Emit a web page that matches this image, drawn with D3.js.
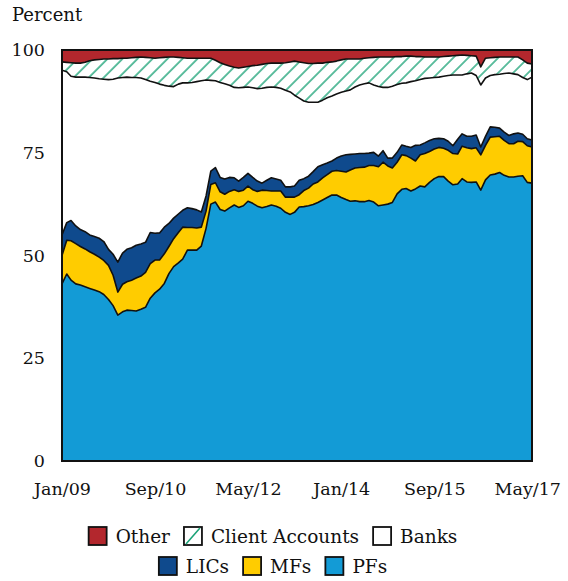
<!DOCTYPE html>
<html><head><meta charset="utf-8">
<script src="https://cdn.jsdelivr.net/npm/d3@7/dist/d3.min.js"></script>
<style>body{margin:0;background:#fff}</style>
</head><body><svg id="c" width="568" height="581"></svg>
<script>
// Monthly shares (percent), Jan 2009 – Jun 2017
const firstMonth = "Jan/09";
const pfs = [43.1,45.5,44,43.1,42.8,42.4,42,41.6,41.2,40.5,
39.3,37.8,35.5,36.3,36.7,36.6,36.5,36.9,37.4,39.6,
40.9,41.8,43.2,45.6,47.3,48.2,49.1,51.3,51.3,51.3,
52.3,56.6,62.5,63,61.2,60.8,61.6,62.3,61.7,62.1,
63.2,62.7,62,61.6,61.9,62.3,62,61.5,60.5,60,
60.5,61.8,61.9,62.1,62.4,62.9,63.5,64.1,64.7,64.7,
64.1,63.6,63.2,63.3,63.1,63.1,63.4,63,62.1,62.3,
62.5,62.9,65,66.1,66.3,65.7,66.2,66.9,66.7,67.8,
68.7,69.2,69.2,68.1,67.2,67.4,68.7,67.9,67.8,67.9,
65.9,68.4,69.6,69.8,70.2,69.5,69.1,69.1,69.3,69.4,
67.8,67.6];
const mfs = [6.9,8.2,9.6,9.8,9.4,9.2,8.9,8.7,8.4,8.3,
8.3,7.4,5.6,6.7,6.9,7.4,8,8.1,8.5,8.4,
8,7.1,7.2,6.6,6.8,7.4,7.8,5.5,5.5,5.4,
4.6,4.2,4.8,4.7,4.3,4.1,4,3.7,3.9,3.8,
3.7,3.3,3.6,4.3,3.9,3.4,3.7,4.2,3.7,4.2,
3.7,3,3.9,4.3,5,5,5.4,5.6,5.8,6,
6.4,6.7,7.6,8,8.3,8.4,8.5,8.9,9.5,10.4,
9.3,8.4,7.7,8.4,8,8,6.8,7.6,8.1,7.5,
7.2,7.1,6.9,7.5,7.6,7.3,7.9,8.3,8.2,8.3,
8.6,8.4,9.2,9.1,8.8,8.5,8.1,8.1,8.5,8.3,
8.9,8.8];
const lics = [5,4.3,4.9,4.3,4.1,4.2,4.1,4.3,4.6,4.6,
3.9,5.1,7.3,7.6,7.9,7.9,8,7.8,7.3,7.6,
6.5,6.6,6.5,5.6,5,4.5,4.1,4.8,4.6,4.4,
3.7,3.7,3.2,3.7,3.5,3.7,3.4,2.9,2.5,3.1,
3.1,3,2.5,1.7,2.5,3.2,2.9,2.6,2.5,2.5,
2.7,3.5,2.9,2.9,3,3.7,3.2,2.8,2.5,3,
3.7,4.2,3.8,3.4,3.4,3.3,3,3.2,2.6,2.8,
1.9,2.4,2.4,2.4,2.3,2.6,3.8,2.4,2.6,2.7,
2.5,2.2,2.3,2.2,1.9,3.6,3,2.8,3,3.1,
1.9,2.2,2.5,2.3,2,2,2,2.4,2,1.8,
1.7,1.7];
const banks = [40.1,36.7,35.1,36.2,37.1,37.6,38.3,38.6,38.8,39.5,
41.3,42.6,44.8,42.7,41.9,41.4,40.8,40.4,39.6,36.8,
36.7,36.2,34.5,33.4,32,31.6,31,30.4,30.7,31.2,
31.9,28.2,22.1,21.1,23.1,23.2,22.4,22,22.7,21.9,
21,21.8,22.5,23.1,22.6,22.1,22.3,22.4,23.5,23.1,
22.1,20,18.9,18,16.9,15.7,15.7,15.9,15.8,15.6,
15.5,15.5,15.7,16.3,16.7,17,17.1,16.4,16.9,15.4,
17.2,17.5,16.5,15,15.4,16,15.7,15.9,15.7,15.2,
14.9,14.9,15.2,16,17.2,15.6,14.3,15.2,15.4,14.5,
15.1,14.2,12.5,12.8,13.1,14.3,15.2,14.6,14.2,13.8,
14.4,15.3];
const clientAccounts = [2,2.3,3.3,3.4,3.4,3.6,4.1,4.4,4.7,4.9,
5,5,4.7,4.7,4.6,4.8,4.9,5.1,5.4,5.7,
5.9,6.4,6.8,7.1,7.2,6.5,6.1,6,5.9,5.7,
5.5,5.3,5.4,5,4.8,4.7,4.7,4.9,4.8,4.9,
5,5.4,5.7,5.8,5.8,5.8,5.9,6.1,6.7,7.3,
8.3,8.8,9.3,9.4,9.4,9.5,9,8.6,8.3,8,
7.9,7.8,7.5,6.8,6.3,6.2,6.1,6.7,7.2,7.4,
7.4,7.1,6.8,6.5,6.5,6.2,5.9,5.6,5.2,5.1,
5,4.9,4.8,4.7,4.7,4.8,4.9,4.5,4.2,4.7,
4.4,4.8,4.3,4.2,4.2,4,3.9,4.1,4.3,4.3,
4,3.2];
const other = [2.9,3,3.1,3.2,3.2,3,2.6,2.4,2.3,2.2,
2.2,2.1,2.1,2,2,1.9,1.8,1.7,1.8,1.9,
2,1.9,1.8,1.7,1.7,1.8,1.9,2,2,2,
2,2,2,2.5,3.1,3.5,3.9,4.2,4.4,4.2,
4,3.8,3.7,3.5,3.3,3.2,3.2,3.2,3.1,2.9,
2.7,2.9,3.1,3.3,3.3,3.2,3.2,3,2.9,2.7,
2.4,2.2,2.2,2.2,2.2,2,1.9,1.8,1.7,1.7,
1.7,1.7,1.6,1.6,1.5,1.5,1.6,1.6,1.7,1.7,
1.7,1.7,1.6,1.5,1.4,1.3,1.2,1.3,1.4,1.5,
4.1,2,1.9,1.8,1.7,1.7,1.7,1.7,1.7,2.4,
3.2,3.4];
const seriesKeys = ["PFs","MFs","LICs","Banks","Client Accounts","Other"];
const xTickLabels = ["Jan/09","Sep/10","May/12","Jan/14","Sep/15","May/17"];
const yTickValues = [0,25,50,75,100];
const legendRow1 = ["Other","Client Accounts","Banks"];
const legendRow2 = ["LICs","MFs","PFs"];

const colors = {"PFs":"#139bd6","MFs":"#ffcc00","LICs":"#0f4a8d","Banks":"#ffffff","Client Accounts":"url(#hatch)","Other":"#b3272d"};
const FONT = "DejaVu Serif";

const parseM = d3.timeParse("%b/%y");
const start = parseM(firstMonth);
const seriesArrays = [pfs, mfs, lics, banks, clientAccounts, other];
const rows = pfs.map((_, i) => {
  const r = {date: d3.timeMonth.offset(start, i)};
  seriesKeys.forEach((k, j) => r[k] = seriesArrays[j][i]);
  return r;
});
const stacked = d3.stack().keys(seriesKeys)(rows);

const L = 62, R = 532, T = 50, B = 461;
const x = d3.scaleTime().domain([rows[0].date, rows[rows.length-1].date]).range([L, R]);
const y = d3.scaleLinear().domain([0, 100]).range([B, T]);

const svg = d3.select("#c");
const defs = svg.append("defs");
const pat = defs.append("pattern").attr("id","hatch").attr("patternUnits","userSpaceOnUse")
  .attr("width",10.6).attr("height",10.6).attr("patternTransform","rotate(45)");
pat.append("rect").attr("width",10.6).attr("height",10.6).attr("fill","#fff");
pat.append("line").attr("x1",1).attr("y1",0).attr("x2",1).attr("y2",10.6)
  .attr("stroke","#1aa276").attr("stroke-width",1.4);
defs.append("clipPath").attr("id","clip").append("rect")
  .attr("x",L).attr("y",T).attr("width",R-L).attr("height",B-T);

const g = svg.append("g").attr("clip-path","url(#clip)");
const area = d3.area().x(d => x(d.data.date)).y0(d => y(d[0])).y1(d => y(d[1]));
g.selectAll("path.a").data(stacked).join("path").attr("class","a")
  .attr("d", area).attr("fill", d => colors[d.key]);
const line = d3.line().x(d => x(d.data.date)).y(d => y(d[1]));
g.selectAll("path.l").data(stacked.slice(0,5)).join("path").attr("class","l")
  .attr("d", line).attr("fill","none").attr("stroke","#111").attr("stroke-width",1.6)
  .attr("stroke-linejoin","round");

svg.append("rect").attr("x",L).attr("y",T).attr("width",R-L).attr("height",B-T)
  .attr("fill","none").attr("stroke","#111").attr("stroke-width",2);

// y axis labels
const yAxis = svg.append("g").attr("transform",`translate(${L},0)`)
  .call(d3.axisLeft(y).tickValues(yTickValues).tickSize(0).tickPadding(17));
yAxis.select(".domain").remove();
yAxis.selectAll("text").attr("font-family",FONT).attr("font-size",17.5).attr("fill","#111");

// x axis labels
const xAxis = svg.append("g").attr("transform",`translate(0,${B})`)
  .call(d3.axisBottom(x).tickValues(xTickLabels.map(parseM)).tickFormat(d3.timeFormat("%b/%y")).tickSize(0).tickPadding(22));
xAxis.select(".domain").remove();
xAxis.selectAll("text").attr("font-family",FONT).attr("font-size",17.5).attr("fill","#111");

svg.append("text").attr("x",12).attr("y",21).attr("font-family",FONT).attr("font-size",18)
  .attr("fill","#111").text("Percent");

// legend
function legendRow(keys, cy) {
  const grp = svg.append("g");
  let cx = 0;
  keys.forEach(k => {
    const it = grp.append("g").attr("transform",`translate(${cx},0)`);
    it.append("rect").attr("x",0).attr("y",cy-9).attr("width",18).attr("height",18)
      .attr("fill", k === "Client Accounts" ? "#fff" : colors[k]).attr("stroke","#111").attr("stroke-width",1.8);
    if (k === "Client Accounts") {
      it.append("line").attr("x1",2).attr("y1",cy+8).attr("x2",16).attr("y2",cy-8)
        .attr("stroke","#1aa276").attr("stroke-width",1.6);
    }
    const t = it.append("text").attr("x",27).attr("y",cy+6.5).attr("font-family",FONT)
      .attr("font-size",18.5).attr("fill","#111").text(k);
    cx += 27 + t.node().getComputedTextLength() + 14;
  });
  const w = cx - 14;
  grp.attr("transform",`translate(${273 - w/2},0)`);
}
legendRow(legendRow1, 536);
legendRow(legendRow2, 566);
</script></body></html>
